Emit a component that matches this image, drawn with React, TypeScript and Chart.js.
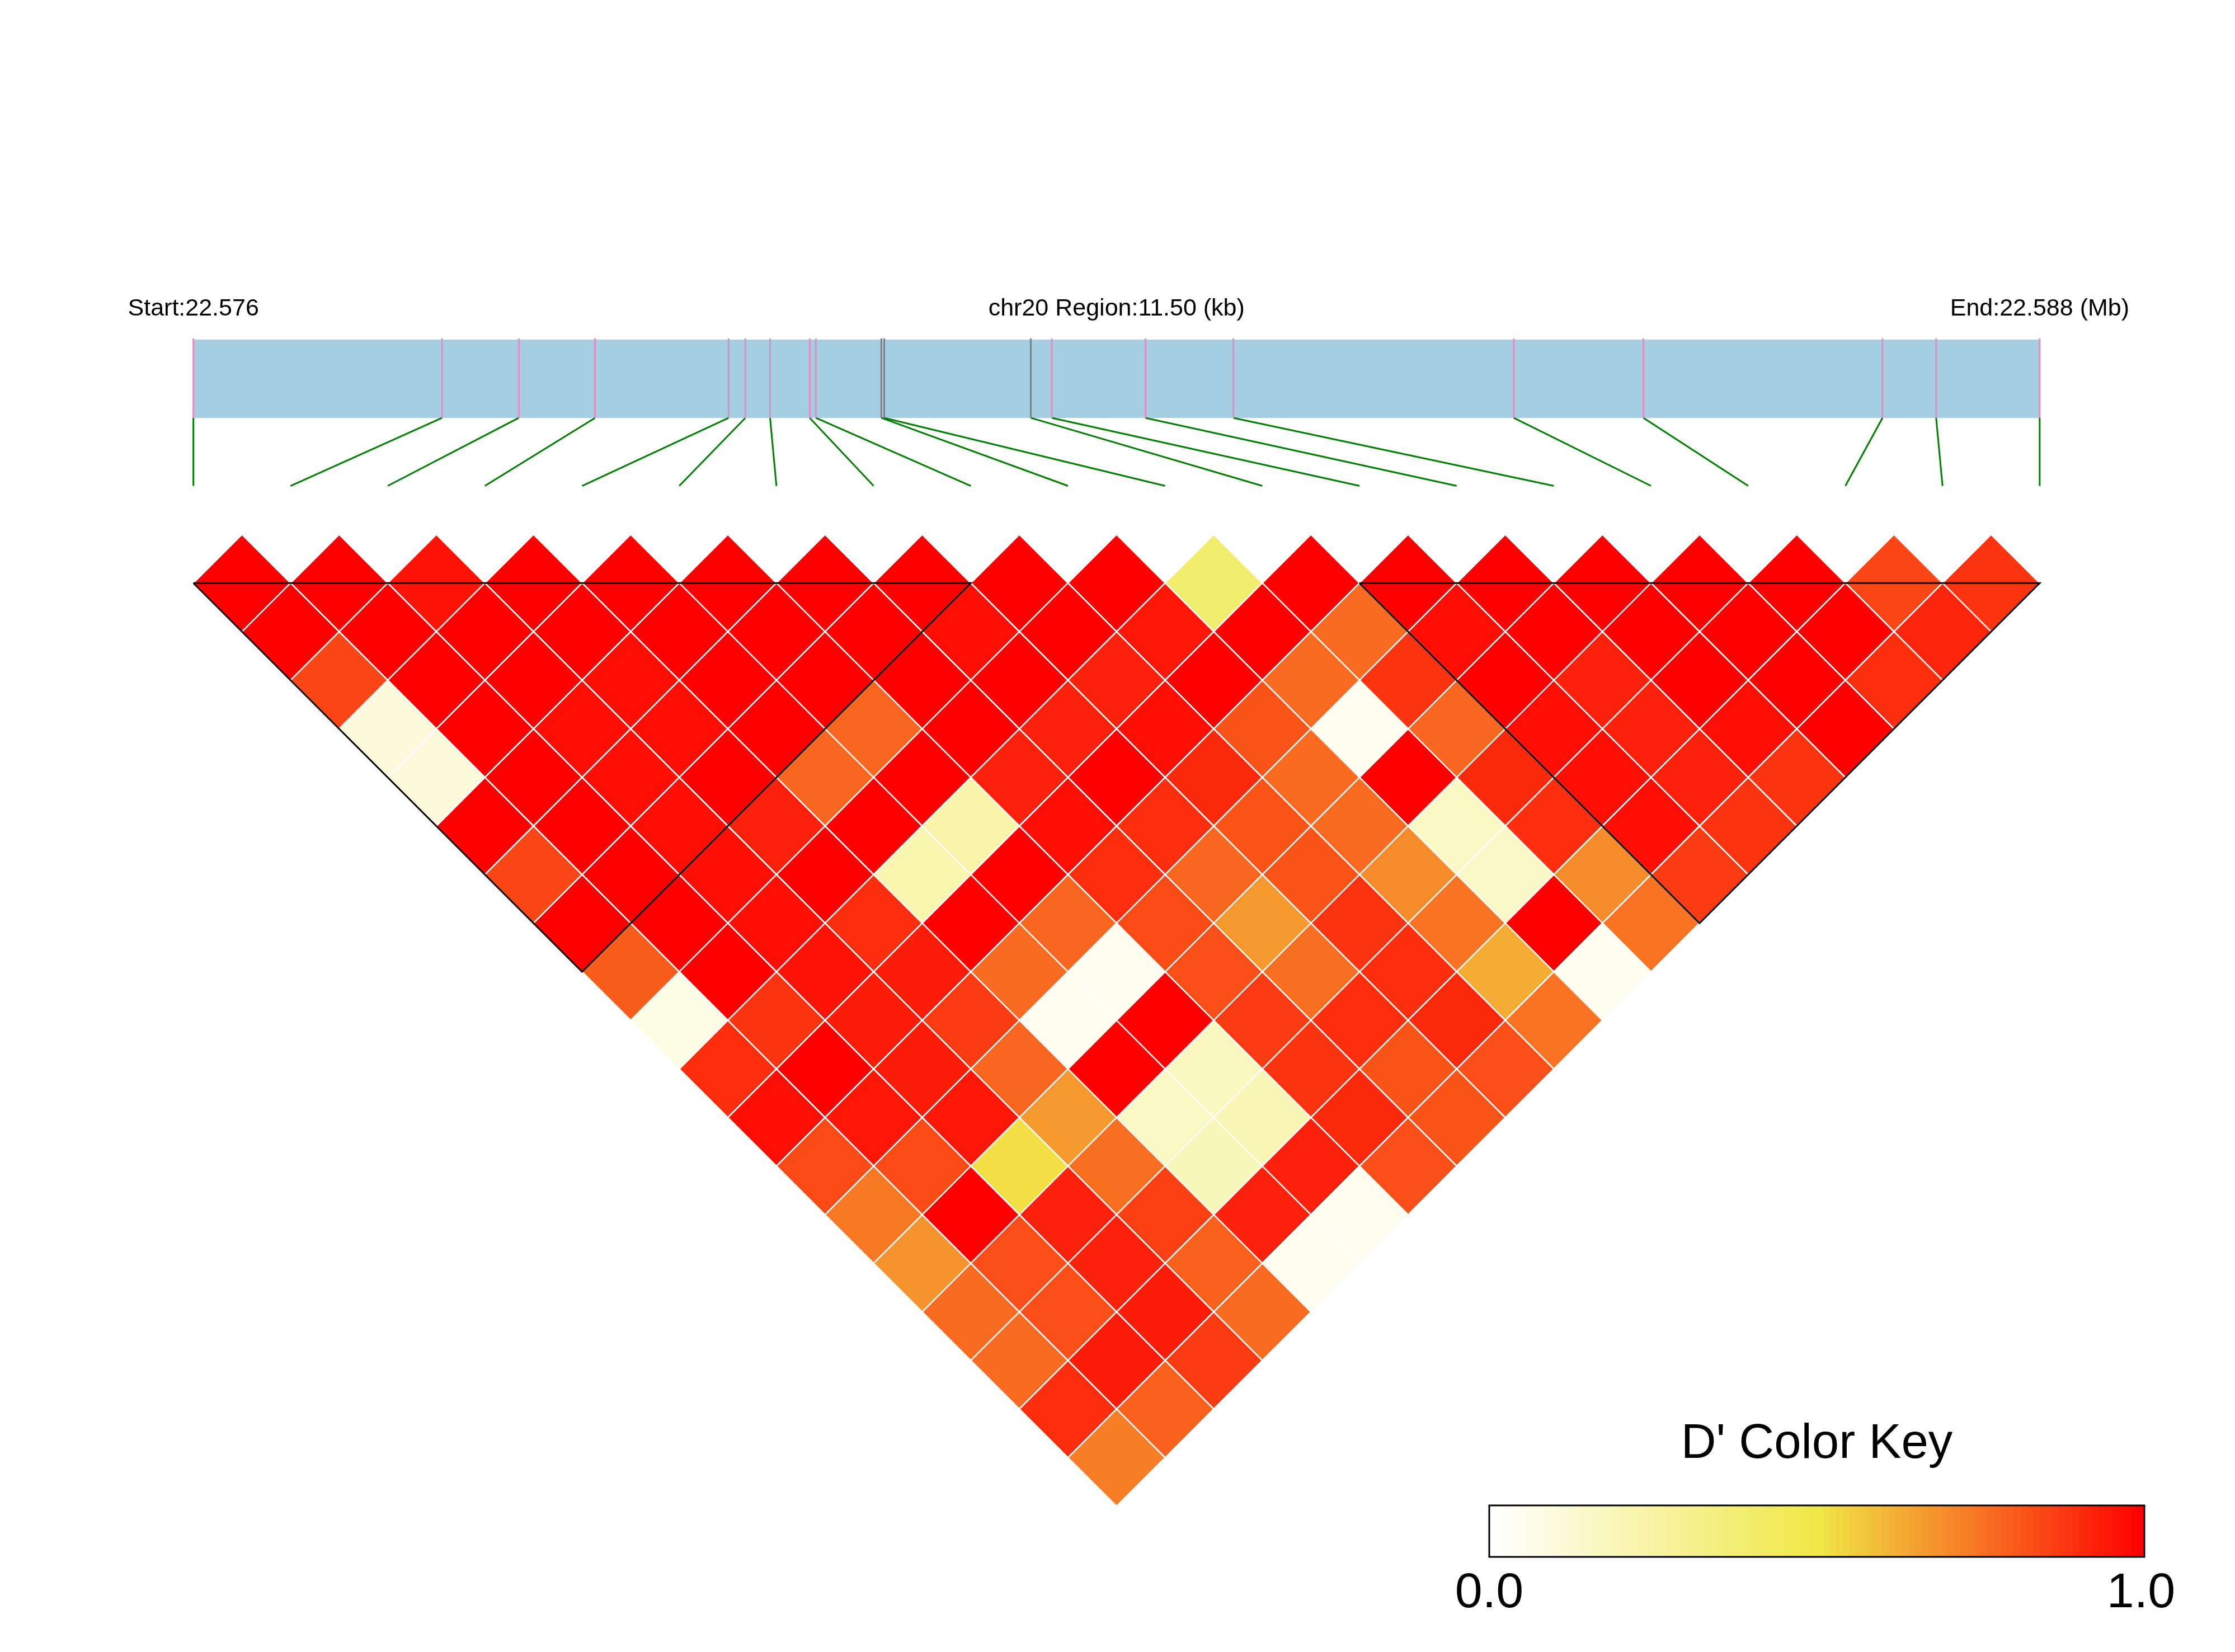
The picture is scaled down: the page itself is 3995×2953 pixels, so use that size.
import React, { useEffect, useRef } from "react";
import { Chart, registerables } from "chart.js";

Chart.register(...registerables);

// ---------------- data ----------------
const chromosome = "chr20";
// physical positions (bp) of the 20 SNPs
const snpPositions = [
  22576480, 22578029, 22578507, 22578982, 22579814, 22579918, 22580072, 22580319,
  22580357, 22580765, 22580783, 22581696, 22581827, 22582410, 22582958, 22584704,
  22585512, 22587001, 22587335, 22587980,
];
// SNPs whose position tick is drawn grey instead of pink
const greyMarkedSnps = [9, 10, 11];
// haplotype blocks (first SNP index, last SNP index)
const ldBlocks = [
  [0, 8],
  [12, 19],
];
// D' values by SNP distance d (pair i, i+d), i = 0..19-d
const dPrimeDist1 = [1.0, 1.0, 0.96, 1.0, 1.0, 1.0, 1.0, 1.0, 1.0, 1.0, 0.39, 1.0, 1.0, 1.0, 1.0, 1.0, 1.0, 0.85, 0.89];
const dPrimeDist2 = [1.0, 1.0, 1.0, 1.0, 1.0, 1.0, 1.0, 0.97, 1.0, 0.95, 1.0, 0.77, 0.97, 1.0, 1.0, 1.0, 1.0, 0.92];
const dPrimeDist3 = [0.85, 1.0, 1.0, 0.97, 1.0, 1.0, 1.0, 1.0, 0.93, 1.0, 0.77, 0.89, 1.0, 0.93, 1.0, 1.0, 0.9];
const dPrimeDist4 = [0.1, 1.0, 0.97, 0.97, 1.0, 0.78, 1.0, 0.93, 0.97, 0.82, 0.04, 0.78, 0.97, 0.93, 0.97, 1.0];
const dPrimeDist5 = [0.1, 1.0, 0.97, 1.0, 0.78, 1.0, 0.93, 1.0, 0.91, 0.77, 1.0, 0.91, 0.97, 0.93, 0.89];
const dPrimeDist6 = [1.0, 1.0, 0.97, 0.93, 1.0, 0.23, 0.97, 0.9, 0.82, 0.77, 0.16, 0.9, 0.97, 0.89];
const dPrimeDist7 = [0.85, 1.0, 0.97, 1.0, 0.22, 1.0, 0.9, 0.78, 0.82, 0.7, 0.15, 0.7, 0.87];
const dPrimeDist8 = [1.0, 1.0, 0.97, 0.9, 1.0, 0.78, 0.84, 0.67, 0.89, 0.75, 1.0, 0.75];
const dPrimeDist9 = [0.8, 1.0, 0.96, 0.94, 0.77, 0.04, 0.83, 0.76, 0.9, 0.63, 0.04];
const dPrimeDist10 = [0.07, 0.89, 0.94, 0.87, 0.04, 1.0, 0.87, 0.9, 0.91, 0.75];
const dPrimeDist11 = [0.9, 1.0, 0.94, 0.78, 1.0, 0.17, 0.89, 0.82, 0.83];
const dPrimeDist12 = [0.97, 0.95, 0.95, 0.67, 0.16, 0.2, 0.91, 0.82];
const dPrimeDist13 = [0.84, 0.84, 0.52, 0.76, 0.19, 0.93, 0.83];
const dPrimeDist14 = [0.74, 1.0, 0.93, 0.86, 0.93, 0.04];
const dPrimeDist15 = [0.68, 0.83, 0.93, 0.79, 0.04];
const dPrimeDist16 = [0.77, 0.83, 0.94, 0.77];
const dPrimeDist17 = [0.77, 0.94, 0.87];
const dPrimeDist18 = [0.9, 0.79];
const dPrimeDist19 = [0.73];
const dPrimeRows = [
  dPrimeDist1, dPrimeDist2, dPrimeDist3, dPrimeDist4, dPrimeDist5, dPrimeDist6, dPrimeDist7,
  dPrimeDist8, dPrimeDist9, dPrimeDist10, dPrimeDist11, dPrimeDist12, dPrimeDist13,
  dPrimeDist14, dPrimeDist15, dPrimeDist16, dPrimeDist17, dPrimeDist18, dPrimeDist19,
];
const legendTitle = "D' Color Key";
const legendTickLabels = ["0.0", "1.0"];
const legendSteps = 100;

// ---------------- styling / layout ----------------
const W = 3995;
const H = 2953;
const FONT = '"Liberation Sans", Arial, Helvetica, sans-serif';
const X_MIN = -1.99;
const X_MAX = 21.01;
const Y_MIN = -6;
const Y_MAX = 11;
const BAR_TOP = -2.505;
const BAR_BOTTOM = -1.7;
const LINK_END = -1.0;
const LABEL_Y = -2.755;
const REGION_BLUE = "#A6CEE3";
const PINK = "#E48BC2";
const GREY = "#808080";
const GREEN = "#008000";

const KEY_LEFT = 2500;
const KEY_TOP = 2450;
const KEY_W = W - KEY_LEFT;
const KEY_H = H - KEY_TOP;

function dPrimeColor(v: number): string {
  const white = [255, 255, 255];
  const yellow = [240, 232, 70];
  const red = [255, 0, 0];
  let a = white;
  let b = yellow;
  let t = v / 0.5;
  if (v > 0.5) {
    a = yellow;
    b = red;
    t = (v - 0.5) / 0.5;
  }
  t = Math.max(0, Math.min(1, t));
  const c = a.map((ai, k) => Math.round(ai + (b[k] - ai) * t));
  return `rgb(${c[0]},${c[1]},${c[2]})`;
}

const nSnp = snpPositions.length;
const regionStart = snpPositions[0];
const regionEnd = snpPositions[nSnp - 1];
const physX = (pos: number) => ((pos - regionStart) / (regionEnd - regionStart)) * (nSnp - 1);

function buildMainConfig(): any {
  const cells: { x: number; y: number }[] = [];
  const cellColors: string[] = [];
  dPrimeRows.forEach((row, dIdx) => {
    const d = dIdx + 1;
    row.forEach((v, i) => {
      const j = i + d;
      cells.push({ x: (i + j) / 2, y: (j - i - 1) / 2 });
      cellColors.push(dPrimeColor(v));
    });
  });

  const datasets: any[] = [];

  // region bar
  datasets.push({
    type: "line",
    data: [
      { x: 0, y: BAR_BOTTOM },
      { x: nSnp - 1, y: BAR_BOTTOM },
    ],
    fill: { value: BAR_TOP },
    backgroundColor: REGION_BLUE,
    borderColor: "rgba(0,0,0,0)",
    borderWidth: 0,
    pointRadius: 0,
    order: 30,
  });

  // SNP position ticks and connectors
  snpPositions.forEach((pos, k) => {
    const px = physX(pos);
    datasets.push({
      type: "line",
      data: [
        { x: px, y: BAR_TOP - 0.012 },
        { x: px, y: BAR_BOTTOM },
      ],
      borderColor: greyMarkedSnps.includes(k) ? GREY : PINK,
      borderWidth: 3,
      pointRadius: 0,
      fill: false,
      order: 20,
    });
    datasets.push({
      type: "line",
      data: [
        { x: px, y: BAR_BOTTOM },
        { x: k, y: LINK_END },
      ],
      borderColor: GREEN,
      borderWidth: 3,
      pointRadius: 0,
      fill: false,
      order: 20,
    });
  });

  // LD diamonds
  datasets.push({
    type: "scatter",
    data: cells,
    showLine: false,
    pointStyle: "rectRot",
    pointRadius: (ctx: any) => {
      const sx = ctx.chart.scales.x;
      return Math.abs(sx.getPixelForValue(0.5) - sx.getPixelForValue(0));
    },
    pointBackgroundColor: cellColors,
    pointBorderColor: "#FFFFFF",
    pointBorderWidth: 2.5,
    order: 10,
  });

  // block outlines
  ldBlocks.forEach(([a, b]) => {
    datasets.push({
      type: "line",
      data: [
        { x: a, y: 0 },
        { x: b, y: 0 },
        { x: (a + b) / 2, y: (b - a) / 2 },
        { x: a, y: 0 },
      ],
      borderColor: "#000000",
      borderWidth: 3,
      pointRadius: 0,
      fill: false,
      order: 0,
    });
  });

  const startLabel = `Start:${(regionStart / 1e6).toFixed(3)}`;
  const endLabel = `End:${(regionEnd / 1e6).toFixed(3)} (Mb)`;
  const regionLabel = `${chromosome} Region:${((regionEnd - regionStart) / 1000).toFixed(2)} (kb)`;

  const labelPlugin = {
    id: "regionLabels",
    afterDraw(chart: any) {
      const { ctx } = chart;
      const sx = chart.scales.x;
      const sy = chart.scales.y;
      ctx.save();
      ctx.fillStyle = "#000";
      ctx.font = `43px ${FONT}`;
      ctx.textAlign = "center";
      ctx.textBaseline = "alphabetic";
      const yp = sy.getPixelForValue(LABEL_Y);
      ctx.fillText(startLabel, sx.getPixelForValue(0), yp);
      ctx.fillText(regionLabel, sx.getPixelForValue((nSnp - 1) / 2), yp);
      ctx.fillText(endLabel, sx.getPixelForValue(nSnp - 1), yp);
      ctx.restore();
    },
  };

  return {
    type: "scatter",
    data: { datasets },
    options: {
      responsive: false,
      devicePixelRatio: 1,
      animation: false,
      events: [],
      layout: { padding: 0 },
      plugins: { legend: { display: false }, tooltip: { enabled: false }, title: { display: false } },
      scales: {
        x: { type: "linear", min: X_MIN, max: X_MAX, display: false },
        y: { type: "linear", min: Y_MIN, max: Y_MAX, reverse: true, display: false },
      },
    },
    plugins: [labelPlugin],
  };
}

function buildKeyConfig(): any {
  const labels: string[] = [];
  const values: number[] = [];
  const colors: string[] = [];
  for (let k = 0; k < legendSteps; k++) {
    labels.push(String(k));
    values.push(1);
    colors.push(dPrimeColor(k / (legendSteps - 1)));
  }
  const keyPlugin = {
    id: "colorKeyDecor",
    afterDraw(chart: any) {
      const { ctx, chartArea } = chart;
      const { left, right, top, bottom } = chartArea;
      ctx.save();
      ctx.strokeStyle = "#000";
      ctx.lineWidth = 3;
      ctx.strokeRect(left, top, right - left, bottom - top);
      ctx.fillStyle = "#000";
      ctx.textAlign = "center";
      ctx.textBaseline = "alphabetic";
      ctx.font = `87px ${FONT}`;
      ctx.fillText(legendTitle, (left + right) / 2, top - 85);
      ctx.font = `88px ${FONT}`;
      ctx.fillText(legendTickLabels[0], left, bottom + 90);
      ctx.fillText(legendTickLabels[1], right - 6, bottom + 90);
      ctx.restore();
    },
  };
  return {
    type: "bar",
    data: {
      labels,
      datasets: [
        {
          data: values,
          backgroundColor: colors,
          borderWidth: 0,
          barPercentage: 1,
          categoryPercentage: 1,
        },
      ],
    },
    options: {
      responsive: false,
      devicePixelRatio: 1,
      animation: false,
      events: [],
      layout: { padding: { left: 162, right: KEY_W - 1333, top: 241, bottom: KEY_H - 333 } },
      plugins: { legend: { display: false }, tooltip: { enabled: false }, title: { display: false } },
      scales: {
        x: { display: false },
        y: { display: false, min: 0, max: 1 },
      },
    },
    plugins: [keyPlugin],
  };
}

export default function App() {
  const mainRef = useRef<HTMLCanvasElement>(null);
  const keyRef = useRef<HTMLCanvasElement>(null);

  useEffect(() => {
    const main = new Chart(mainRef.current as HTMLCanvasElement, buildMainConfig());
    const key = new Chart(keyRef.current as HTMLCanvasElement, buildKeyConfig());
    return () => {
      main.destroy();
      key.destroy();
    };
  }, []);

  return (
    <div
      style={{
        position: "absolute",
        left: 0,
        top: 0,
        width: W,
        height: H,
        background: "#ffffff",
        overflow: "hidden",
      }}
    >
      <canvas
        ref={mainRef}
        width={W}
        height={H}
        style={{ position: "absolute", left: 0, top: 0, width: W, height: H }}
      />
      <canvas
        ref={keyRef}
        width={KEY_W}
        height={KEY_H}
        style={{ position: "absolute", left: KEY_LEFT, top: KEY_TOP, width: KEY_W, height: KEY_H }}
      />
    </div>
  );
}
